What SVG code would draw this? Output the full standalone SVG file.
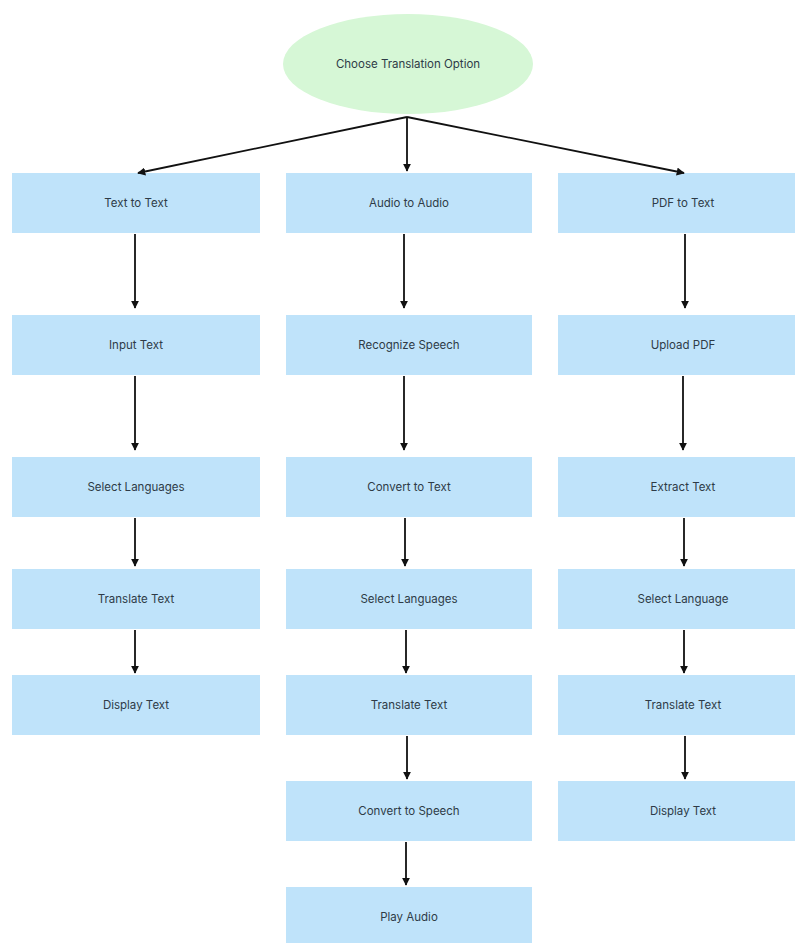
<svg xmlns="http://www.w3.org/2000/svg" width="795" height="943" viewBox="0 0 795 943">
<style>
.box{fill:#bfe3fa;}
.ell{fill:#d6f7d6;}
.t{font-family:Inter,"Liberation Sans",sans-serif;font-size:11.5px;fill:#2e3b47;text-anchor:middle;dominant-baseline:central;}
.c{stroke:#111;stroke-width:1.8;fill:none;marker-end:url(#ah);}
</style>
<defs>
<marker id="ah" viewBox="0 0 10 10" refX="9" refY="5" markerWidth="4.5" markerHeight="4.5" orient="auto" markerUnits="strokeWidth">
<path d="M0,0 L10,5 L0,10 z" fill="#111"/>
</marker>
</defs>
<rect width="795" height="943" fill="#fff"/>
<g id="start"><ellipse class="ell" cx="408" cy="64" rx="125" ry="50"/><text class="t" x="408" y="64">Choose Translation Option</text></g>

<g id="l1"><rect class="box" x="12" y="173" width="248" height="60"/><text class="t" x="136" y="203">Text to Text</text></g>
<g id="l2"><rect class="box" x="12" y="315" width="248" height="60"/><text class="t" x="136" y="345">Input Text</text></g>
<g id="l3"><rect class="box" x="12" y="457" width="248" height="60"/><text class="t" x="136" y="487">Select Languages</text></g>
<g id="l4"><rect class="box" x="12" y="569" width="248" height="60"/><text class="t" x="136" y="599">Translate Text</text></g>
<g id="l5"><rect class="box" x="12" y="675" width="248" height="60"/><text class="t" x="136" y="705">Display Text</text></g>

<g id="m1"><rect class="box" x="286" y="173" width="246" height="60"/><text class="t" x="409" y="203">Audio to Audio</text></g>
<g id="m2"><rect class="box" x="286" y="315" width="246" height="60"/><text class="t" x="409" y="345">Recognize Speech</text></g>
<g id="m3"><rect class="box" x="286" y="457" width="246" height="60"/><text class="t" x="409" y="487">Convert to Text</text></g>
<g id="m4"><rect class="box" x="286" y="569" width="246" height="60"/><text class="t" x="409" y="599">Select Languages</text></g>
<g id="m5"><rect class="box" x="286" y="675" width="246" height="60"/><text class="t" x="409" y="705">Translate Text</text></g>
<g id="m6"><rect class="box" x="286" y="781" width="246" height="60"/><text class="t" x="409" y="811">Convert to Speech</text></g>
<g id="m7"><rect class="box" x="286" y="887" width="246" height="60"/><text class="t" x="409" y="917">Play Audio</text></g>

<g id="r1"><rect class="box" x="558" y="173" width="240" height="60"/><text class="t" x="683" y="203">PDF to Text</text></g>
<g id="r2"><rect class="box" x="558" y="315" width="240" height="60"/><text class="t" x="683" y="345">Upload PDF</text></g>
<g id="r3"><rect class="box" x="558" y="457" width="240" height="60"/><text class="t" x="683" y="487">Extract Text</text></g>
<g id="r4"><rect class="box" x="558" y="569" width="240" height="60"/><text class="t" x="683" y="599">Select Language</text></g>
<g id="r5"><rect class="box" x="558" y="675" width="240" height="60"/><text class="t" x="683" y="705">Translate Text</text></g>
<g id="r6"><rect class="box" x="558" y="781" width="240" height="60"/><text class="t" x="683" y="811">Display Text</text></g>

<g id="connectors">
<line class="c" x1="407" y1="117" x2="138" y2="173"/>
<line class="c" x1="407" y1="117" x2="407" y2="171"/>
<line class="c" x1="407" y1="117" x2="684" y2="173"/>

<line class="c" x1="135" y1="234" x2="135" y2="308"/>
<line class="c" x1="135" y1="376" x2="135" y2="450"/>
<line class="c" x1="135" y1="518" x2="135" y2="566"/>
<line class="c" x1="135" y1="630" x2="135" y2="673"/>

<line class="c" x1="404" y1="234" x2="404" y2="308"/>
<line class="c" x1="404" y1="376" x2="404" y2="450"/>
<line class="c" x1="405" y1="518" x2="405" y2="566"/>
<line class="c" x1="406" y1="630" x2="406" y2="673"/>
<line class="c" x1="407" y1="736" x2="407" y2="779"/>
<line class="c" x1="406" y1="842" x2="406" y2="885"/>

<line class="c" x1="685" y1="234" x2="685" y2="308"/>
<line class="c" x1="683" y1="376" x2="683" y2="450"/>
<line class="c" x1="684" y1="518" x2="684" y2="566"/>
<line class="c" x1="684" y1="630" x2="684" y2="673"/>
<line class="c" x1="685" y1="736" x2="685" y2="779"/>
</g>
</svg>
